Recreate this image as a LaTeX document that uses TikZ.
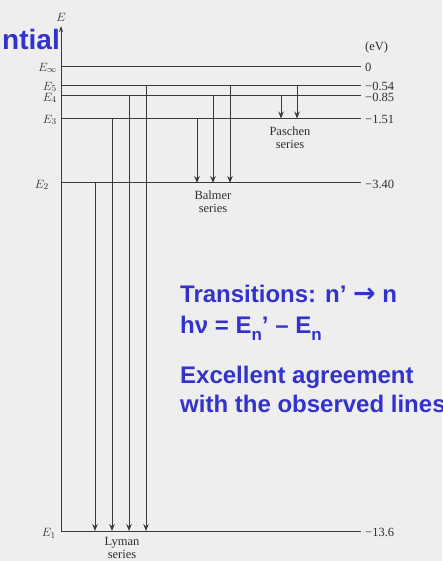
\documentclass[tikz,border=0pt]{standalone}
\usepackage{fontspec}
\setmainfont{Liberation Serif}
\newfontfamily\blufont{Liberation Sans}
\newfontfamily\arrfont{DejaVu Sans}
\usetikzlibrary{arrows.meta}
\definecolor{bgc}{HTML}{EEEEEE}
\definecolor{blu}{HTML}{3333CC}
\definecolor{ink}{HTML}{3A3A3A}
\begin{document}
\begin{tikzpicture}[x=1pt,y=-1pt,
  lvl/.style={draw=ink,line width=1pt},
  trans/.style={draw=ink,line width=1pt,-{Stealth[length=7pt,width=5.5pt]}},
  axisln/.style={draw=ink,line width=1pt,-{Stealth[length=6pt,width=4pt]}},
  lbl/.style={font=\fontsize{12.5}{13}\selectfont,text=ink!80!black,inner sep=0pt},
  big/.style={font=\blufont\bfseries\fontsize{24}{28}\selectfont,text=blu,inner sep=0pt,anchor=base west},
]
\useasboundingbox (0,0) rectangle (442,561);
\fill[bgc] (0,0) rectangle (442,561);

% energy levels (y = 67 + 34.1*|E|)
\foreach \n/\y in {inf/67,5/85.4,4/96,3/118.5,2/183,1/531}{
  \coordinate (lv\n-l) at (61,\y);
  \coordinate (lv\n-r) at (361,\y);
  \draw[lvl] (lv\n-l) -- (lv\n-r);
}

% axis
\coordinate (axtop) at (61,26);
\draw[axisln] (lv1-l) -- (axtop);
\node[lbl,anchor=south] (Elab) at (61,22) {$E$};
\node[lbl,anchor=south west] (eV) at (365,53) {(eV)};

% left labels
\node[lbl,anchor=east] (Einf) at (57,68) {$E_\infty$};
\node[lbl,anchor=east] (E5) at (57,87) {$E_5$};
\node[lbl,anchor=east] (E4) at (57,98) {$E_4$};
\node[lbl,anchor=east] (E3) at (57,120) {$E_3$};
\node[lbl,anchor=east] (E2) at (49,185) {$E_2$};
\node[lbl,anchor=east] (E1) at (56,533) {$E_1$};

% right labels
\node[lbl,anchor=west] (v0) at (365,67) {0};
\node[lbl,anchor=west] (v5) at (365,86) {−0.54};
\node[lbl,anchor=west] (v4) at (365,97) {−0.85};
\node[lbl,anchor=west] (v3) at (365,119) {−1.51};
\node[lbl,anchor=west] (v2) at (365,184) {−3.40};
\node[lbl,anchor=west] (v1) at (365,532) {−13.6};

% Lyman
\foreach \x/\n in {95/2,112/3,129/4,146/5}{
  \coordinate (ly\n) at (\x,0);
  \draw[trans] (ly\n |- lv\n-l) -- (ly\n |- lv1-l);
}
% Balmer
\foreach \x/\n in {197/3,213/4,230/5}{
  \coordinate (ba\n) at (\x,0);
  \draw[trans] (ba\n |- lv\n-l) -- (ba\n |- lv2-l);
}
% Paschen
\foreach \x/\n in {281/4,297/5}{
  \coordinate (pa\n) at (\x,0);
  \draw[trans] (pa\n |- lv\n-l) -- (pa\n |- lv3-l);
}

\node[lbl,align=center] (pasch) at (290,137.5) {Paschen\\series};
\node[lbl,align=center] (balm) at (213,202) {Balmer\\series};
\node[lbl,align=center] (lym) at (122,548) {Lyman\\series};

% blue texts
\node[big,anchor=base east,font=\blufont\bfseries\fontsize{28}{30}\selectfont] (pot) at (60,50) {ntial};
\node[big] (tr) at (180,302) {Transitions: n’ {\arrfont\bfseries\fontsize{27}{28}\selectfont →} n};
\node[big] (hv) at (180,333) {hν = E\raisebox{-7pt}{\fontsize{17}{17}\selectfont n}’ – E\raisebox{-7pt}{\fontsize{17}{17}\selectfont n}};
\node[big] (ex1) at (180,383) {Excellent agreement};
\node[big] (ex2) at (180,412) {with the observed lines};
\end{tikzpicture}
\end{document}
